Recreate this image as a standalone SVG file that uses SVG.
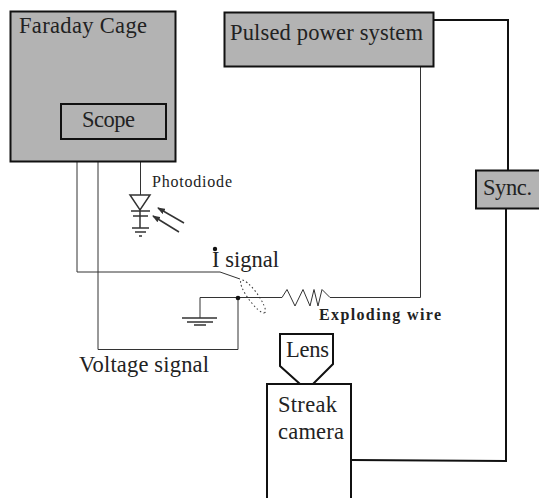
<svg xmlns="http://www.w3.org/2000/svg" width="539" height="498" viewBox="0 0 539 498">
<style>
text{font-family:"Liberation Serif","DejaVu Serif",serif;font-size:22.500px;fill:#222}
.box{fill:#b3b3b3;stroke:#111;stroke-width:2}
.thick{fill:none;stroke:#111;stroke-width:2}
.thin{fill:none;stroke:#333;stroke-width:1}
.med{fill:none;stroke:#333;stroke-width:1.500}
.small{font-size:16px}
.bold{font-size:16px;font-weight:bold}
</style>
<defs><marker id="tip" markerUnits="userSpaceOnUse" markerWidth="8" markerHeight="6" refX="7" refY="3" orient="auto"><path d="M0 0L8 3L0 6Z" fill="#333"/></marker></defs>
<g id="connectors">
<path class="thin" d="M77 139V272H220L240 279"/>
<path class="thin" d="M98 139V349.500H238V298"/>
<path class="thin" d="M140.500 139V195"/>
<path class="thin" d="M200 318V297.500H282L287 289.500L295 306L303 289.500L310 306L314 289.500L318 306L322 289.500L330 297.500H420.500V67"/>
<ellipse cx="253" cy="296.500" rx="20" ry="5" transform="rotate(54 253 296.500)" fill="none" stroke="#333" stroke-width="1" stroke-dasharray="1.500 2.500"/>
<circle cx="238" cy="298" r="2.300" fill="#111"/>
<path class="thick" d="M434 20H508V170"/>
<path class="thick" d="M506 208V461L351 460"/>
<path class="med" d="M182 318H217M187 322H213M194 325H206"/>
</g>
<g id="faraday-cage"><rect class="box" x="10.500" y="11.500" width="165" height="150"/><text x="19" y="33" textLength="128" lengthAdjust="spacing">Faraday Cage</text></g>
<g id="scope"><rect class="box" x="61" y="104" width="105" height="35"/><text x="82" y="127" textLength="53" lengthAdjust="spacing">Scope</text></g>
<g id="photodiode">
<path class="med" d="M130 195H150L140 210ZM131 211H150M133 216H148M140 211V228M132 228H149M135 232H146M139 236H142"/>
<path class="med" d="M184 223L158 208" marker-end="url(#tip)"/>
<path class="med" d="M179 232L153 216" marker-end="url(#tip)"/>
<text class="small" x="152" y="187" textLength="80" lengthAdjust="spacing">Photodiode</text>
</g>
<g id="pulsed-power"><rect class="box" x="224.500" y="12.500" width="209" height="54"/><text x="230" y="40" textLength="193" lengthAdjust="spacing">Pulsed power system</text></g>
<g id="sync"><rect class="box" x="476" y="170.500" width="64" height="38"/><text x="483" y="195" textLength="49" lengthAdjust="spacing">Sync.</text></g>
<g id="lens"><path class="thick" d="M280 334H333V364L313 384H300L280 366Z"/><text x="286" y="357" textLength="43" lengthAdjust="spacing">Lens</text></g>
<g id="streak-camera"><path class="thick" d="M267 499V384H351V499"/><text x="278" y="412" textLength="59" lengthAdjust="spacing">Streak</text><text x="278" y="439" textLength="66" lengthAdjust="spacing">camera</text></g>
<g id="labels">
<circle cx="215" cy="249" r="2.200" fill="#111"/>
<text x="212" y="267" textLength="67" lengthAdjust="spacing">I signal</text>
<text x="79" y="372" textLength="130" lengthAdjust="spacing">Voltage signal</text>
<text class="bold" x="319" y="320" textLength="122" lengthAdjust="spacing">Exploding wire</text>
</g>
</svg>
